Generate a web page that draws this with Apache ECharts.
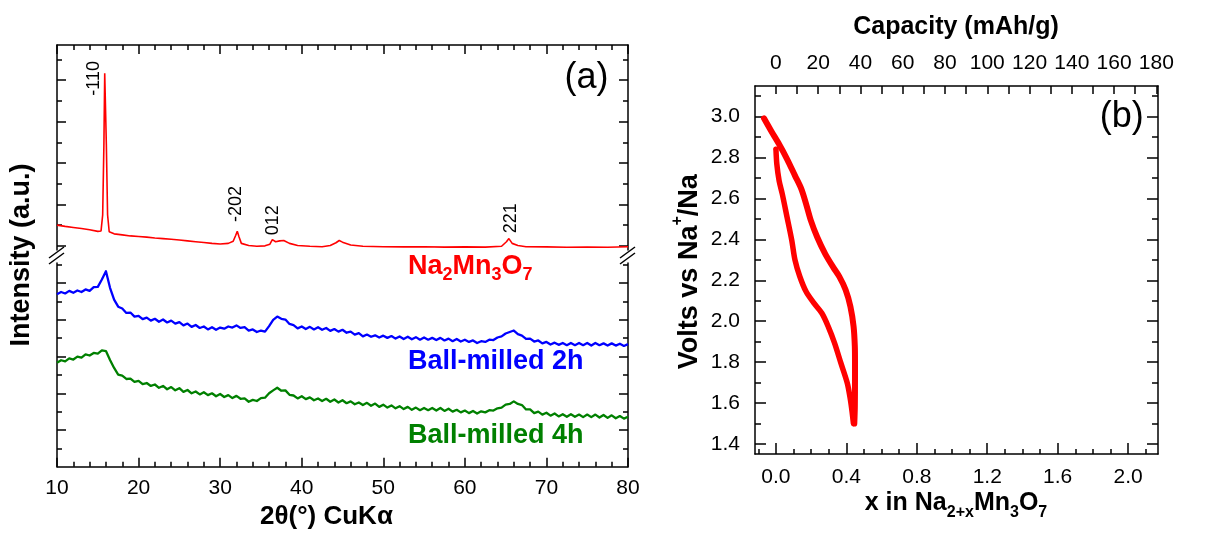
<!DOCTYPE html>
<html><head><meta charset="utf-8">
<script src="https://cdn.jsdelivr.net/npm/echarts@6/dist/echarts.min.js"></script>
<style>html,body{margin:0;padding:0;background:#fff}#chart{width:1206px;height:536px}</style>
</head><body><div id="chart"></div>
<script>
// ---------- Panel (a): XRD data ----------
const twoTheta = [10,10.5,11,11.5,12,12.5,13,13.5,14,14.5,15,15.5,16,16.5,17,17.5,18,18.5,19,19.5,
20,20.5,21,21.5,22,22.5,23,23.5,24,24.5,25,25.5,26,26.5,27,27.5,28,28.5,29,29.5,
30,30.5,31,31.5,32,32.5,33,33.5,34,34.5,35,35.5,36,36.5,37,37.5,38,38.5,39,39.5,
40,40.5,41,41.5,42,42.5,43,43.5,44,44.5,45,45.5,46,46.5,47,47.5,48,48.5,49,49.5,
50,50.5,51,51.5,52,52.5,53,53.5,54,54.5,55,55.5,56,56.5,57,57.5,58,58.5,59,59.5,
60,60.5,61,61.5,62,62.5,63,63.5,64,64.5,65,65.5,66,66.5,67,67.5,68,68.5,69,69.5,
70,70.5,71,71.5,72,72.5,73,73.5,74,74.5,75,75.5,76,76.5,77,77.5,78,78.5,79,79.5,80];

const blue2h = [9.40,9.52,9.44,9.58,9.48,9.60,9.52,9.66,9.58,9.78,9.80,10.20,10.65,9.75,9.10,8.72,8.62,8.38,8.40,8.18,
8.22,8.04,8.12,7.96,8.06,7.90,8.02,7.86,7.96,7.80,7.88,7.70,7.80,7.62,7.72,7.56,7.64,7.48,7.60,7.46,
7.58,7.52,7.64,7.58,7.70,7.56,7.60,7.42,7.48,7.34,7.42,7.36,7.66,8.00,8.18,8.06,8.02,7.78,7.72,7.54,
7.64,7.50,7.62,7.48,7.60,7.46,7.56,7.40,7.50,7.36,7.46,7.30,7.36,7.20,7.28,7.10,7.20,7.08,7.16,7.04,
7.14,7.02,7.12,6.98,7.10,6.96,7.08,6.94,7.06,6.92,7.04,6.92,7.02,6.90,7.02,6.88,6.98,6.84,6.96,6.82,
6.92,6.80,6.88,6.74,6.84,6.80,6.92,6.90,7.04,7.10,7.26,7.34,7.42,7.22,7.14,6.96,6.98,6.82,6.88,6.72,
6.80,6.66,6.76,6.64,6.74,6.62,6.74,6.62,6.74,6.62,6.74,6.60,6.74,6.62,6.72,6.60,6.72,6.60,6.70,6.58,6.68];

const green4h = [5.66,5.80,5.74,5.90,5.84,6.00,5.94,6.12,6.06,6.20,6.16,6.34,6.30,5.82,5.38,5.02,4.96,4.78,4.80,4.62,
4.68,4.50,4.56,4.40,4.48,4.30,4.40,4.22,4.34,4.16,4.28,4.08,4.18,4.00,4.10,3.94,4.06,3.90,4.00,3.84,
3.96,3.80,3.90,3.74,3.86,3.70,3.72,3.54,3.64,3.58,3.74,3.76,4.00,4.16,4.30,4.14,4.16,3.92,3.88,3.72,
3.84,3.68,3.78,3.62,3.72,3.58,3.70,3.54,3.66,3.50,3.62,3.46,3.56,3.40,3.50,3.36,3.48,3.32,3.44,3.26,
3.38,3.22,3.34,3.18,3.30,3.14,3.26,3.10,3.22,3.08,3.20,3.08,3.20,3.06,3.20,3.04,3.16,3.00,3.10,2.96,
3.06,2.92,3.04,2.90,3.02,2.96,3.08,3.06,3.18,3.22,3.38,3.42,3.56,3.42,3.36,3.12,3.12,2.92,3.00,2.84,
2.94,2.78,2.90,2.74,2.86,2.72,2.86,2.72,2.84,2.70,2.84,2.70,2.84,2.68,2.82,2.66,2.80,2.64,2.76,2.62,2.72];

const redTheta = [10,11,12,13,14,15,15.4,15.6,15.75,15.85,15.95,16.05,16.2,16.4,17,18,19,20,21,22,23,24,25,26,27,28,29,30,31,
31.6,31.9,32.1,32.3,32.6,33.5,34.5,35.5,36.1,36.4,36.8,37.3,37.8,38.5,39.5,41,42.5,43.5,44.2,44.6,45,46,47.5,
50,52.5,55,57.5,60,62.5,64.5,65.1,65.4,65.8,66.5,67.5,70,72.5,75,77.5,80];
const redIntensity = [1.10,1.04,0.99,0.94,0.88,0.80,0.82,1.6,5.0,8.44,8.44,5.0,1.6,0.78,0.68,0.63,0.58,0.55,0.52,0.48,0.45,0.42,0.38,0.34,0.30,0.26,0.22,0.19,0.22,
0.32,0.60,0.80,0.55,0.22,0.12,0.08,0.10,0.18,0.40,0.30,0.34,0.36,0.22,0.12,0.08,0.06,0.12,0.25,0.36,0.28,0.14,0.08,
0.06,0.05,0.06,0.04,0.05,0.04,0.08,0.30,0.45,0.22,0.12,0.06,0.05,0.03,0.04,0.03,0.06];

// tick values, panel (a)
const xrdMajorTicks = [10,20,30,40,50,60,70,80];
const xrdMinorTicks = [12,14,16,18,22,24,26,28,32,34,36,38,42,44,46,48,52,54,56,58,62,64,66,68,72,74,76,78];
const upperMajorTicks = [0.1,2.1,4.1,6.1,8.1];
const upperMinorTicks = [1.1,3.1,5.1,7.1,9.1];
const lowerMajorTicks = [2,4,6,8,10];
const lowerMinorTicks = [1,3,5,7,9,11];

// ---------- Panel (b): electrochemistry ----------
const dischargeX = [0.000,0.005,0.018,0.036,0.063,0.090,0.108,0.135,0.171,0.216,0.261,0.297,0.333,0.369,0.405,0.423,0.432,0.440];
const dischargeV = [2.841,2.768,2.687,2.622,2.509,2.395,2.300,2.220,2.145,2.088,2.039,1.974,1.893,1.795,1.698,1.616,1.560,1.500];
const chargeX = [0.445,0.448,0.449,0.449,0.448,0.441,0.423,0.396,0.360,0.324,0.279,0.234,0.198,0.171,0.144,0.108,0.063,0.018,-0.027,-0.068];
const chargeV = [1.500,1.580,1.730,1.800,1.877,1.974,2.072,2.153,2.218,2.266,2.331,2.412,2.493,2.574,2.647,2.712,2.793,2.865,2.930,2.992];

const xMajorTicks = [0,0.4,0.8,1.2,1.6,2.0];
const xMinorTicks = [-0.1,0.1,0.2,0.3,0.5,0.6,0.7,0.9,1.0,1.1,1.3,1.4,1.5,1.7,1.8,1.9,2.1];
const voltMajorTicks = [1.4,1.6,1.8,2.0,2.2,2.4,2.6,2.8,3.0];
const voltMinorTicks = [1.5,1.7,1.9,2.1,2.3,2.5,2.7,2.9,3.1];
const capacityLabels = [0,20,40,60,80,100,120,140,160,180];
const capacityTicks = [0,10,20,30,40,50,60,70,80,90,100,110,120,130,140,150,160,170,180];

const FONT = "'Liberation Sans', Arial, Helvetica, sans-serif";
const X_MIN = -0.119, X_MAX = 2.170;
const CAP_PER_X = 83.31;
const V_MIN = 1.351, V_MAX = 3.15;

function axis(grid, pos, min, max, ticks, len, line, labels, fmt, margin) {
  return {
    type: 'value', gridIndex: grid, position: pos, min: min, max: max,
    axisLine: { show: line, onZero: false, lineStyle: { color: '#000', width: 1.5 } },
    axisTick: { show: true, inside: true, length: len, customValues: ticks, lineStyle: { color: '#000', width: 1.5 } },
    axisLabel: labels ? { show: true, customValues: labels, formatter: fmt, fontSize: 21, color: '#000', fontFamily: FONT, margin: margin } : { show: false },
    splitLine: { show: false }, minorTick: { show: false }
  };
}

const chart = echarts.init(document.getElementById('chart'), null, { renderer: 'canvas' });

function txt(x, y, text, size, opts) {
  opts = opts || {};
  return {
    type: 'text', x: x, y: y, rotation: opts.rot || 0, silent: true,
    style: Object.assign({ text: text, fontSize: size, fontFamily: FONT, fontWeight: opts.bold ? 'bold' : 'normal',
      fill: opts.color || '#000', align: opts.align || 'center', verticalAlign: opts.va || 'middle' }, opts.extra || {})
  };
}
function richStyles(color, main, sub, lh) {
  return {
    m: { fontSize: main, fontWeight: 'bold', fontFamily: FONT, fill: color, lineHeight: lh, verticalAlign: 'top' },
    s: { fontSize: sub, fontWeight: 'bold', fontFamily: FONT, fill: color, lineHeight: lh, verticalAlign: 'bottom' }
  };
}
const brk = (x1, y1, x2, y2) => ({ type: 'line', silent: true, shape: { x1, y1, x2, y2 }, style: { stroke: '#000', lineWidth: 1.5 } });
const echemLine = (w) => ({ color: '#ff0000', width: w, cap: 'round', join: 'round' });

const option = {
  animation: false,
  backgroundColor: '#fff',
  textStyle: { fontFamily: FONT },
  grid: [
    { left: 57, top: 45, width: 571, height: 205, outerBoundsMode: 'none' },
    { left: 57, top: 263, width: 571, height: 203.7, outerBoundsMode: 'none' },
    { left: 755, top: 86, width: 403, height: 368, outerBoundsMode: 'none' }
  ],
  xAxis: [
    axis(0, 'top', 10, 80, xrdMajorTicks, 9, true),
    axis(0, 'top', 10, 80, xrdMinorTicks, 5, false),
    axis(1, 'bottom', 10, 80, xrdMajorTicks, 9, true, xrdMajorTicks, v => String(v), 11),
    axis(1, 'bottom', 10, 80, xrdMinorTicks, 5, false),
    axis(2, 'bottom', X_MIN, X_MAX, xMajorTicks, 11, true, xMajorTicks, v => v.toFixed(1), 13),
    axis(2, 'bottom', X_MIN, X_MAX, xMinorTicks, 5, false),
    axis(2, 'top', X_MIN * CAP_PER_X, X_MAX * CAP_PER_X, capacityTicks, 8, true, capacityLabels, v => String(v), 12)
  ],
  yAxis: [
    axis(0, 'left', -0.1, 9.8, upperMajorTicks, 9, true),
    axis(0, 'left', -0.1, 9.8, upperMinorTicks, 5, false),
    axis(0, 'right', -0.1, 9.8, upperMajorTicks, 9, true),
    axis(0, 'right', -0.1, 9.8, upperMinorTicks, 5, false),
    axis(1, 'left', 0, 11.1, lowerMajorTicks, 9, true),
    axis(1, 'left', 0, 11.1, lowerMinorTicks, 5, false),
    axis(1, 'right', 0, 11.1, lowerMajorTicks, 9, true),
    axis(1, 'right', 0, 11.1, lowerMinorTicks, 5, false),
    axis(2, 'left', V_MIN, V_MAX, voltMajorTicks, 11, true, voltMajorTicks, v => v.toFixed(1), 15),
    axis(2, 'left', V_MIN, V_MAX, voltMinorTicks, 6, false),
    axis(2, 'right', V_MIN, V_MAX, voltMajorTicks, 11, true),
    axis(2, 'right', V_MIN, V_MAX, voltMinorTicks, 6, false)
  ],
  series: [
    { name: 'Na2Mn3O7', type: 'line', xAxisIndex: 0, yAxisIndex: 0, symbol: 'none', silent: true,
      data: redTheta.map((t, i) => [t, redIntensity[i]]), lineStyle: { color: '#ff0000', width: 1.6 } },
    { name: 'Ball-milled 2h', type: 'line', xAxisIndex: 2, yAxisIndex: 4, symbol: 'none', silent: true,
      data: twoTheta.map((t, i) => [t, blue2h[i]]), lineStyle: { color: '#0000ff', width: 2.3, join: 'round' } },
    { name: 'Ball-milled 4h', type: 'line', xAxisIndex: 2, yAxisIndex: 4, symbol: 'none', silent: true,
      data: twoTheta.map((t, i) => [t, green4h[i]]), lineStyle: { color: '#008000', width: 2.3, join: 'round' } },
    { name: 'discharge', type: 'line', xAxisIndex: 4, yAxisIndex: 8, symbol: 'none', silent: true, smooth: 0.3,
      data: dischargeX.map((x, i) => [x, dischargeV[i]]), lineStyle: echemLine(5.5) },
    { name: 'charge', type: 'line', xAxisIndex: 4, yAxisIndex: 8, symbol: 'none', silent: true, smooth: 0.3,
      data: chargeX.map((x, i) => [x, chargeV[i]]), lineStyle: echemLine(6) },
    { name: 'ends', type: 'scatter', xAxisIndex: 4, yAxisIndex: 8, silent: true, symbol: 'circle', symbolSize: 4,
      itemStyle: { color: '#fff', borderColor: '#ff0000', borderWidth: 1 },
      data: [[chargeX[chargeX.length - 1], chargeV[chargeV.length - 1]], [dischargeX[0], dischargeV[0]]] }
  ],
  graphic: [
    brk(49, 258, 64, 247), brk(49, 264, 64, 253),
    brk(620, 258, 635, 247), brk(620, 264, 635, 253),
    txt(93.7, 78.3, '-110', 18, { rot: Math.PI / 2 }),
    txt(236, 204, '-202', 18, { rot: Math.PI / 2 }),
    txt(273.3, 220.3, '012', 18, { rot: Math.PI / 2 }),
    txt(510.7, 218.3, '221', 18, { rot: Math.PI / 2 }),
    txt(586.5, 78, '(a)', 36),
    txt(1121.7, 117, '(b)', 36),
    txt(408, 253.5, '{m|Na}{s|2}{m|Mn}{s|3}{m|O}{s|7}', 27, { align: 'left', va: 'top', extra: { rich: richStyles('#ff0000', 27, 18, 31) } }),
    txt(408, 362, 'Ball-milled 2h', 27, { bold: true, color: '#0000ff', align: 'left' }),
    txt(408, 435.5, 'Ball-milled 4h', 27, { bold: true, color: '#008000', align: 'left' }),
    txt(22, 255, 'Intensity (a.u.)', 27, { bold: true, rot: Math.PI / 2 }),
    txt(260, 517, '2θ(°) CuKα', 26, { bold: true, align: 'left' }),
    txt(956, 27.5, 'Capacity (mAh/g)', 25, { bold: true }),
    txt(956, 490.8, '{m|x in Na}{s|2+x}{m|Mn}{s|3}{m|O}{s|7}', 25, { va: 'top', extra: { rich: richStyles('#000', 25, 16, 30) } }),
    txt(686.5, 271.7, '{b|Volts vs Na}{p|+}{b|/Na}', 27, { rot: Math.PI / 2, extra: { rich: {
      b: { fontSize: 27, fontWeight: 'bold', fontFamily: FONT, fill: '#000', lineHeight: 34, verticalAlign: 'bottom' },
      p: { fontSize: 16, fontWeight: 'bold', fontFamily: FONT, fill: '#000', lineHeight: 34, verticalAlign: 'top' } } } })
  ]
};
chart.setOption(option);
</script>
</body></html>
